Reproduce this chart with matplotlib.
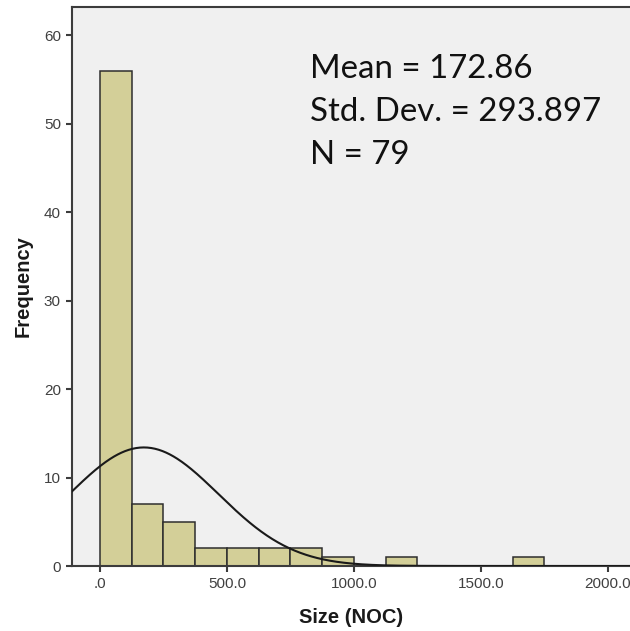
import numpy as np
import matplotlib
matplotlib.use("Agg")
import matplotlib.pyplot as plt

# Histogram data (bin edges of width 125)
bin_left = [0, 125, 250, 375, 500, 625, 750, 875, 1000, 1125, 1250, 1375, 1500, 1625]
counts   = [56, 7, 5, 2, 2, 2, 2, 1, 0, 1, 0, 0, 0, 1]
bin_width = 125
mean_val = 172.86
sd_val = 293.897
n_val = 79
x_ticks = [0, 500, 1000, 1500, 2000]
x_tick_labels = [".0", "500.0", "1000.0", "1500.0", "2000.0"]
y_ticks = [0, 10, 20, 30, 40, 50, 60]

W, H = 630, 631
fig = plt.figure(figsize=(W/100, H/100), dpi=100)
fig.patch.set_facecolor("white")
ax = fig.add_axes([72/W, 1-566/H, 1-72/W, (566-7)/H])
ax.set_facecolor("#F0F0F0")

ax.bar(bin_left, counts, width=bin_width, align="edge",
       color="#D3CF98", edgecolor="#2E2E2E", linewidth=1.1, zorder=2)

xlim = (-110, 2087)
xs = np.linspace(xlim[0], xlim[1], 600)
ys = n_val * bin_width / (sd_val * np.sqrt(2*np.pi)) * np.exp(-0.5*((xs-mean_val)/sd_val)**2)
ax.plot(xs, ys, color="#1A1A1A", lw=1.5, zorder=3)

ax.set_xlim(*xlim)
ax.set_ylim(0, 63.2)
ax.set_xticks(x_ticks)
ax.set_xticklabels(x_tick_labels)
ax.set_yticks(y_ticks)

for s in ["left", "bottom", "top"]:
    ax.spines[s].set_color("#3C3C3C")
    ax.spines[s].set_linewidth(1.5)
ax.spines["right"].set_visible(False)
ax.tick_params(direction="out", length=4, width=1.5, color="#3C3C3C",
               labelcolor="#404040", labelsize=11, pad=4)
for lab in ax.get_xticklabels() + ax.get_yticklabels():
    lab.set_family("Liberation Sans")

ax.set_xlabel("Size (NOC)", fontsize=14.5, fontweight="bold", family="Liberation Sans",
              color="#1A1A1A", labelpad=12)
ax.set_ylabel("Frequency", fontsize=14.5, fontweight="bold", family="Liberation Sans",
              color="#1A1A1A", labelpad=8)

stats = [f"Mean = {mean_val:.2f}", f"Std. Dev. = {sd_val:.3f}", f"N = {n_val}"]
for i, t in enumerate(stats):
    fig.text(310/W, 1-(78+i*43)/H, t, fontsize=23.8, family="Lato",
             color="#111111", ha="left", va="baseline")

fig.savefig("out.png", dpi=100)
